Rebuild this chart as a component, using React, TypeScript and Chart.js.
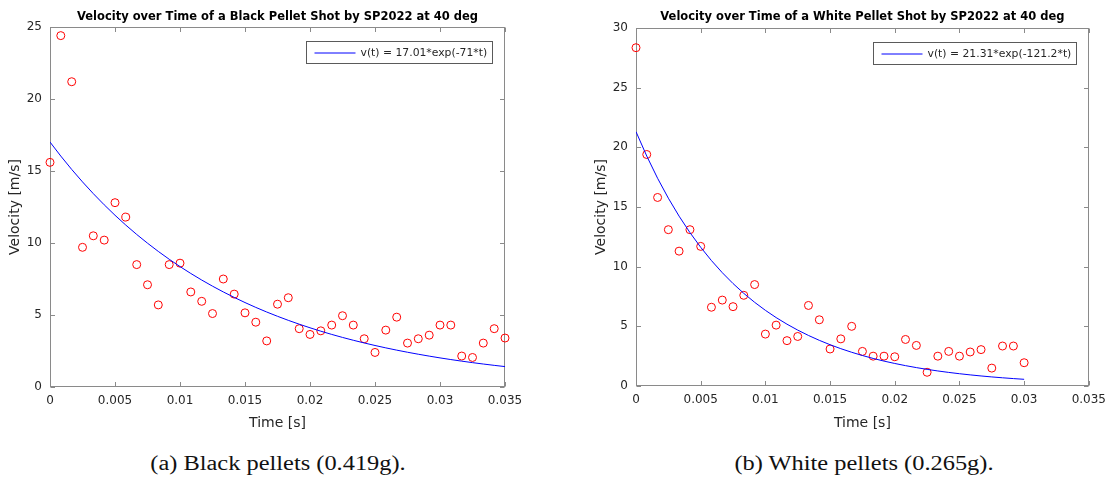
import { useEffect, useRef } from "react";
import { Chart, registerables } from "chart.js";
import type { Plugin } from "chart.js";

Chart.register(...registerables);

const SANS = '"DejaVu Sans", sans-serif';
const AXIS_COLOR = "#8a8a8a";
const TEXT_COLOR = "#262626";
const CANVAS_H = 440;

// Sample instants [s] (camera frames)
const blackTimes = [
  0, 0.00083, 0.00167, 0.0025, 0.00333, 0.00417, 0.005, 0.00583, 0.00667, 0.0075,
  0.00833, 0.00917, 0.01, 0.01083, 0.01167, 0.0125, 0.01333, 0.01417, 0.015, 0.01583,
  0.01667, 0.0175, 0.01833, 0.01917, 0.02, 0.02083, 0.02167, 0.0225, 0.02333, 0.02417,
  0.025, 0.02583, 0.02667, 0.0275, 0.02833, 0.02917, 0.03, 0.03083, 0.03167, 0.0325,
  0.03333, 0.03417, 0.035,
];
// Measured speed of the black pellet [m/s]
const blackVelocity = [
  15.6, 24.4, 21.2, 9.7, 10.5, 10.2, 12.8, 11.8, 8.5, 7.1,
  5.7, 8.5, 8.6, 6.6, 5.95, 5.1, 7.5, 6.45, 5.15, 4.5,
  3.2, 5.75, 6.2, 4.05, 3.65, 3.9, 4.3, 4.95, 4.3, 3.35,
  2.4, 3.95, 4.85, 3.05, 3.35, 3.6, 4.3, 4.3, 2.15, 2.05,
  3.05, 4.05, 3.4,
];

const whiteTimes = [
  0, 0.00083, 0.00167, 0.0025, 0.00333, 0.00417, 0.005, 0.00583, 0.00667, 0.0075,
  0.00833, 0.00917, 0.01, 0.01083, 0.01167, 0.0125, 0.01333, 0.01417, 0.015, 0.01583,
  0.01667, 0.0175, 0.01833, 0.01917, 0.02, 0.02083, 0.02167, 0.0225, 0.02333, 0.02417,
  0.025, 0.02583, 0.02667, 0.0275, 0.02833, 0.02917, 0.03,
];
// Measured speed of the white pellet [m/s]
const whiteVelocity = [
  28.35, 19.4, 15.8, 13.1, 11.3, 13.1, 11.7, 6.6, 7.2, 6.65,
  7.6, 8.5, 4.35, 5.1, 3.8, 4.15, 6.75, 5.55, 3.1, 3.95,
  5.0, 2.9, 2.5, 2.5, 2.45, 3.9, 3.4, 1.15, 2.5, 2.9,
  2.5, 2.85, 3.05, 1.5, 3.35, 3.35, 1.95,
];

// Exponential fits v(t) = a*exp(-b*t)
const blackFit = { a: 17.01, b: 71 };
const whiteFit = { a: 21.31, b: 121.2 };

const timeTicks = [0, 0.005, 0.01, 0.015, 0.02, 0.025, 0.03, 0.035];
const timeTickLabels = ["0", "0.005", "0.01", "0.015", "0.02", "0.025", "0.03", "0.035"];
const blackVelTicks = [0, 5, 10, 15, 20, 25];
const whiteVelTicks = [0, 5, 10, 15, 20, 25, 30];

interface PanelSpec {
  title: string;
  legend: string;
  times: number[];
  values: number[];
  fit: { a: number; b: number };
  yTicks: number[];
  canvasLeft: number;
  canvasWidth: number;
  area: { left: number; top: number; right: number; bottom: number };
  caption: string;
}

const panels: PanelSpec[] = [
  {
    title: "Velocity over Time of a Black Pellet Shot by SP2022 at 40 deg",
    legend: `v(t) = ${blackFit.a.toFixed(2)}*exp(-${blackFit.b}*t)`,
    times: blackTimes,
    values: blackVelocity,
    fit: blackFit,
    yTicks: blackVelTicks,
    canvasLeft: 0,
    canvasWidth: 556,
    area: { left: 50, top: 27, right: 505, bottom: 387 },
    caption: "(a) Black pellets (0.419g).",
  },
  {
    title: "Velocity over Time of a White Pellet Shot by SP2022 at 40 deg",
    legend: `v(t) = ${whiteFit.a.toFixed(2)}*exp(-${whiteFit.b}*t)`,
    times: whiteTimes,
    values: whiteVelocity,
    fit: whiteFit,
    yTicks: whiteVelTicks,
    canvasLeft: 556,
    canvasWidth: 557,
    area: { left: 80, top: 28, right: 535, bottom: 386 },
    caption: "(b) White pellets (0.265g).",
  },
];

function buildChart(canvas: HTMLCanvasElement, p: PanelSpec): Chart {
  const W = p.canvasWidth;
  const fitLine = p.times.map((t) => ({ x: t, y: p.fit.a * Math.exp(-p.fit.b * t) }));
  const points = p.times.map((t, i) => ({ x: t, y: p.values[i] }));
  const TICK = 4.5;

  const decorations: Plugin = {
    id: "matlabFrame",
    beforeDatasetsDraw(chart) {
      const { ctx, chartArea: a, scales } = chart;
      const L = Math.round(a.left) + 0.5;
      const R = Math.round(a.right) - 0.5;
      const T = Math.round(a.top) + 0.5;
      const B = Math.round(a.bottom) - 0.5;
      ctx.save();
      ctx.strokeStyle = AXIS_COLOR;
      ctx.lineWidth = 1;
      ctx.strokeRect(L, T, R - L, B - T);
      ctx.beginPath();
      for (const v of timeTicks) {
        const x = Math.round(scales.x.getPixelForValue(v)) + 0.5;
        ctx.moveTo(x, B);
        ctx.lineTo(x, B - TICK);
        ctx.moveTo(x, T);
        ctx.lineTo(x, T + TICK);
      }
      for (const v of p.yTicks) {
        const y = Math.round(scales.y.getPixelForValue(v)) + 0.5;
        ctx.moveTo(L, y);
        ctx.lineTo(L + TICK, y);
        ctx.moveTo(R, y);
        ctx.lineTo(R - TICK, y);
      }
      ctx.stroke();
      ctx.restore();
    },
    afterDraw(chart) {
      const { ctx, chartArea: a } = chart;
      const cx = (a.left + a.right) / 2;
      const cy = (a.top + a.bottom) / 2;
      ctx.save();
      ctx.textAlign = "center";
      ctx.textBaseline = "middle";

      // title
      ctx.fillStyle = "#000";
      ctx.font = `bold 11.5px ${SANS}`;
      ctx.fillText(p.title, cx, 17);

      // axis titles
      ctx.fillStyle = TEXT_COLOR;
      ctx.font = `14px ${SANS}`;
      ctx.fillText("Time [s]", cx, 423);
      ctx.save();
      ctx.translate(a.left - 34.5, cy);
      ctx.rotate(-Math.PI / 2);
      ctx.fillText("Velocity [m/s]", 0, 0);
      ctx.restore();

      // boxed legend in the upper-right corner
      const label = String(chart.data.datasets[0].label ?? "");
      ctx.font = `10.8px ${SANS}`;
      const tw = ctx.measureText(label).width;
      const padL = 8, lineLen = 41, gap = 5, padR = 5;
      const bw = Math.round(padL + lineLen + gap + tw + padR);
      const bh = 22;
      const bx = Math.round(a.right - 13 - bw) + 0.5;
      const by = Math.round(a.top + 14) + 0.5;
      ctx.fillStyle = "#fff";
      ctx.fillRect(bx, by, bw, bh);
      ctx.strokeStyle = "#5a5a5a";
      ctx.lineWidth = 1;
      ctx.strokeRect(bx, by, bw, bh);
      const ly = Math.round(by + bh / 2);
      ctx.strokeStyle = "#0000ff";
      ctx.beginPath();
      ctx.moveTo(bx + padL, ly);
      ctx.lineTo(bx + padL + lineLen, ly);
      ctx.stroke();
      ctx.fillStyle = TEXT_COLOR;
      ctx.textAlign = "left";
      ctx.fillText(label, bx + padL + lineLen + gap, by + bh / 2 + 0.5);
      ctx.restore();
    },
  };

  const tickFont = { family: SANS, size: 12 };

  return new Chart(canvas, {
    type: "scatter",
    data: {
      datasets: [
        {
          label: p.legend,
          data: fitLine,
          showLine: true,
          borderColor: "#0000ff",
          backgroundColor: "#0000ff",
          borderWidth: 1,
          pointRadius: 0,
          tension: 0,
          fill: false,
        },
        {
          label: "measured",
          data: points,
          borderColor: "#ff0000",
          backgroundColor: "rgba(0,0,0,0)",
          borderWidth: 1,
          pointRadius: 4,
          pointStyle: "circle",
          clip: false,
        },
      ],
    },
    options: {
      responsive: false,
      animation: false,
      devicePixelRatio: 1,
      layout: { padding: { left: 0, top: p.area.top, right: W - p.area.right, bottom: 0 } },
      plugins: {
        legend: { display: false },
        title: { display: false },
        tooltip: { enabled: false },
      },
      scales: {
        x: {
          type: "linear",
          min: 0,
          max: 0.035,
          border: { display: false },
          grid: { display: false, drawTicks: false },
          afterBuildTicks: (s: any) => {
            s.ticks = timeTicks.map((v) => ({ value: v }));
          },
          afterFit: (s: any) => {
            s.height = CANVAS_H - p.area.bottom;
          },
          ticks: {
            callback: (_v: any, i: number) => timeTickLabels[i],
            font: tickFont,
            color: TEXT_COLOR,
            padding: 7,
            maxRotation: 0,
            autoSkip: false,
          },
        },
        y: {
          type: "linear",
          min: 0,
          max: p.yTicks[p.yTicks.length - 1],
          border: { display: false },
          grid: { display: false, drawTicks: false },
          afterBuildTicks: (s: any) => {
            s.ticks = p.yTicks.map((v) => ({ value: v }));
          },
          afterFit: (s: any) => {
            s.width = p.area.left;
          },
          ticks: {
            callback: (v: any) => String(v),
            font: tickFont,
            color: TEXT_COLOR,
            padding: 8,
            autoSkip: false,
          },
        },
      },
    },
    plugins: [decorations],
  });
}

function Panel({ spec }: { spec: PanelSpec }) {
  const ref = useRef<HTMLCanvasElement>(null);
  useEffect(() => {
    if (!ref.current) return;
    const chart = buildChart(ref.current, spec);
    return () => chart.destroy();
  }, [spec]);
  const center = spec.canvasLeft + (spec.area.left + spec.area.right) / 2;
  return (
    <>
      <canvas
        ref={ref}
        width={spec.canvasWidth}
        height={CANVAS_H}
        style={{ position: "absolute", left: spec.canvasLeft, top: 0, display: "block" }}
      />
      <div
        style={{
          position: "absolute",
          left: center - 200,
          top: 451,
          width: 400,
          textAlign: "center",
          fontFamily: '"Liberation Serif", serif',
          fontSize: 20,
          lineHeight: "24px",
          color: "#111",
          transform: "scaleX(1.22)",
          transformOrigin: "center",
          whiteSpace: "nowrap",
        }}
      >
        {spec.caption}
      </div>
    </>
  );
}

export default function App() {
  return (
    <div
      style={{
        position: "fixed",
        left: 0,
        top: 0,
        width: 1113,
        height: 477,
        background: "#fff",
        overflow: "hidden",
      }}
    >
      {panels.map((p) => (
        <Panel key={p.caption} spec={p} />
      ))}
    </div>
  );
}
